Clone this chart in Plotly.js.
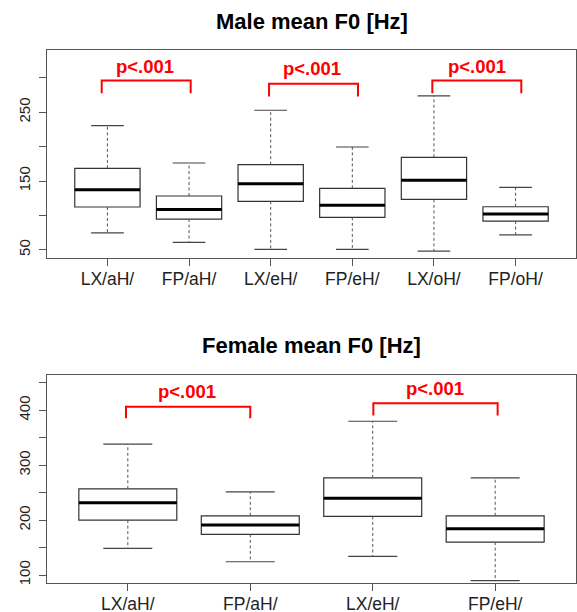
<!DOCTYPE html>
<html><head><meta charset="utf-8">
<script src="https://cdn.plot.ly/plotly-3.0.1.min.js"></script>
<style>html,body{margin:0;padding:0;background:#fff}#chart{width:577px;height:612px}</style>
</head><body><div id="chart"></div>
<script>
// Male panel
const maleCats = ["LX/aH/","FP/aH/","LX/eH/","FP/eH/","LX/oH/","FP/oH/"];
const maleLow  = [74.5, 60.7, 50.5, 50.5, 48.0, 71.8];
const maleQ1   = [112.2, 94.7, 120.4, 97.1, 123.3, 91.7];
const maleMed  = [137.4, 108.7, 146.1, 114.6, 151.0, 101.9];
const maleQ3   = [168.4, 128.2, 173.8, 139.3, 184.5, 112.6];
const maleHigh = [230.6, 176.2, 252.9, 199.5, 273.8, 140.8];
const maleTickVals = [50,100,150,200,250,300];
const maleTickText = ["50","","150","","250",""];
// Male significance brackets (x from, x to, bar level, left end, right end)
const maleBrFrom = [-0.07, 1.98, 3.98];
const maleBrTo   = [1.02, 3.07, 5.07];
const maleBrTop  = [296, 291.5, 296];
const maleBrEndL = [277.5, 272.8, 277.5];
const maleBrEndR = [277.5, 272.8, 277.5];
const maleBrText = ["p<.001","p<.001","p<.001"];
const maleBrTextX = [0.46, 2.5, 4.53];
const maleBrTextY = [317, 313, 317];

// Female panel
const femCats = ["LX/aH/","FP/aH/","LX/eH/","FP/eH/"];
const femLow  = [148.5, 124.2, 133.9, 89.7];
const femQ1   = [200.0, 173.9, 206.7, 160.0];
const femMed  = [231.5, 190.9, 240.0, 184.2];
const femQ3   = [257.0, 207.9, 277.0, 207.9];
const femHigh = [338.2, 251.5, 380.0, 277.0];
const femTickVals = [100,150,200,250,300,350,400,450];
const femTickText = ["100","","200","","300","","400",""];
const femBrFrom = [-0.015, 2.005];
const femBrTo   = [1.0, 3.02];
const femBrTop  = [406.5, 412.7];
const femBrEndL = [385.3, 390.3];
const femBrEndR = [385.3, 390.3];
const femBrText = ["p<.001","p<.001"];
const femBrTextX = [0.48, 2.51];
const femBrTextY = [434, 440];

const FONT = "Liberation Sans, Arial, sans-serif";
const traces = [];
const annotations = [];
const HALF = 0.4, CAP = 0.2;

function addPanel(cats, lo, q1, med, q3, hi, xa, ya) {
  const idx = cats.map((_, i) => i);
  // boxes (whiskers drawn separately in R style)
  traces.push({
    type: "box", x: idx, q1: q1, median: med, q3: q3,
    lowerfence: q1, upperfence: q3,
    xaxis: xa, yaxis: ya, width: 2*HALF, whiskerwidth: 0,
    line: {color: "#333", width: 1.2}, fillcolor: "rgba(255,255,255,1)",
    showlegend: false, hoverinfo: "skip", boxpoints: false
  });
  // dashed whiskers
  const wx = [], wy = [];
  idx.forEach(i => { wx.push(i, i, null, i, i, null); wy.push(q3[i], hi[i], null, q1[i], lo[i], null); });
  traces.push({type: "scatter", mode: "lines", x: wx, y: wy, xaxis: xa, yaxis: ya,
    line: {color: "#555", width: 1, dash: "3px,2.5px"}, showlegend: false, hoverinfo: "skip"});
  // caps
  const cx = [], cy = [];
  idx.forEach(i => { cx.push(i-CAP, i+CAP, null, i-CAP, i+CAP, null); cy.push(hi[i], hi[i], null, lo[i], lo[i], null); });
  traces.push({type: "scatter", mode: "lines", x: cx, y: cy, xaxis: xa, yaxis: ya,
    line: {color: "#444", width: 1.2}, showlegend: false, hoverinfo: "skip"});
  // bold medians
  const mx = [], my = [];
  idx.forEach(i => { mx.push(i-HALF, i+HALF, null); my.push(med[i], med[i], null); });
  traces.push({type: "scatter", mode: "lines", x: mx, y: my, xaxis: xa, yaxis: ya,
    line: {color: "#000", width: 3}, showlegend: false, hoverinfo: "skip"});
}

function addBrackets(from, to, top, endL, endR, txt, tx, ty, xa, ya) {
  const bx = [], by = [];
  from.forEach((f, i) => { bx.push(f, f, to[i], to[i], null); by.push(endL[i], top[i], top[i], endR[i], null); });
  traces.push({type: "scatter", mode: "lines", x: bx, y: by, xaxis: xa, yaxis: ya,
    line: {color: "#ff0000", width: 2}, showlegend: false, hoverinfo: "skip"});
  txt.forEach((t, i) => annotations.push({x: tx[i], y: ty[i], xref: xa, yref: ya, text: "<b>" + t + "</b>",
    showarrow: false, font: {family: FONT, size: 18.5, color: "#ff0000"}, xanchor: "center", yanchor: "middle"}));
}

addPanel(maleCats, maleLow, maleQ1, maleMed, maleQ3, maleHigh, "x", "y");
addBrackets(maleBrFrom, maleBrTo, maleBrTop, maleBrEndL, maleBrEndR, maleBrText, maleBrTextX, maleBrTextY, "x", "y");
addPanel(femCats, femLow, femQ1, femMed, femQ3, femHigh, "x2", "y2");
addBrackets(femBrFrom, femBrTo, femBrTop, femBrEndL, femBrEndR, femBrText, femBrTextX, femBrTextY, "x2", "y2");

annotations.push({x: 0.5, y: 1.054, xref: "paper", yref: "paper", text: "<b>Male mean F0 [Hz]</b>", showarrow: false,
  font: {family: FONT, size: 22, color: "#000"}, xanchor: "center", yanchor: "middle"});
annotations.push({x: 0.5, y: 0.4447, xref: "paper", yref: "paper", text: "<b>Female mean F0 [Hz]</b>", showarrow: false,
  font: {family: FONT, size: 22, color: "#000"}, xanchor: "center", yanchor: "middle"});

const axCommon = {showline: true, mirror: true, linecolor: "#555", linewidth: 1, ticks: "outside", ticklen: 7,
  tickcolor: "#555", tickwidth: 1, showgrid: false, zeroline: false, fixedrange: true};
const xFont = {family: FONT, size: 17.5, color: "#222"};
const yFont = {family: FONT, size: 15, color: "#222"};

const layout = {
  width: 577, height: 612, margin: {l: 47, r: 1, t: 50, b: 29},
  paper_bgcolor: "#fff", plot_bgcolor: "#fff", showlegend: false,
  xaxis: Object.assign({}, axCommon, {domain: [0,1], anchor: "y", range: [-0.74, 5.74], tickmode: "array",
    tickvals: maleCats.map((_, i) => i), ticktext: maleCats, tickfont: xFont, ticklabelstandoff: -2}),
  yaxis: Object.assign({}, axCommon, {domain: [0.609, 1], anchor: "x", range: [37.5, 340.5], tickmode: "array",
    tickvals: maleTickVals, ticktext: maleTickText, tickangle: -90, tickfont: yFont, ticklabelstandoff: 3}),
  xaxis2: Object.assign({}, axCommon, {domain: [0,1], anchor: "y2", range: [-0.66, 3.66], tickmode: "array",
    tickvals: femCats.map((_, i) => i), ticktext: femCats, tickfont: xFont, ticklabelstandoff: -2}),
  yaxis2: Object.assign({}, axCommon, {domain: [0, 0.390], anchor: "x2", range: [85.5, 464], tickmode: "array",
    tickvals: femTickVals, ticktext: femTickText, tickangle: -90, tickfont: yFont, ticklabelstandoff: 3}),
  annotations: annotations
};

Plotly.newPlot("chart", traces, layout, {displayModeBar: false, staticPlot: true});
</script></body></html>
